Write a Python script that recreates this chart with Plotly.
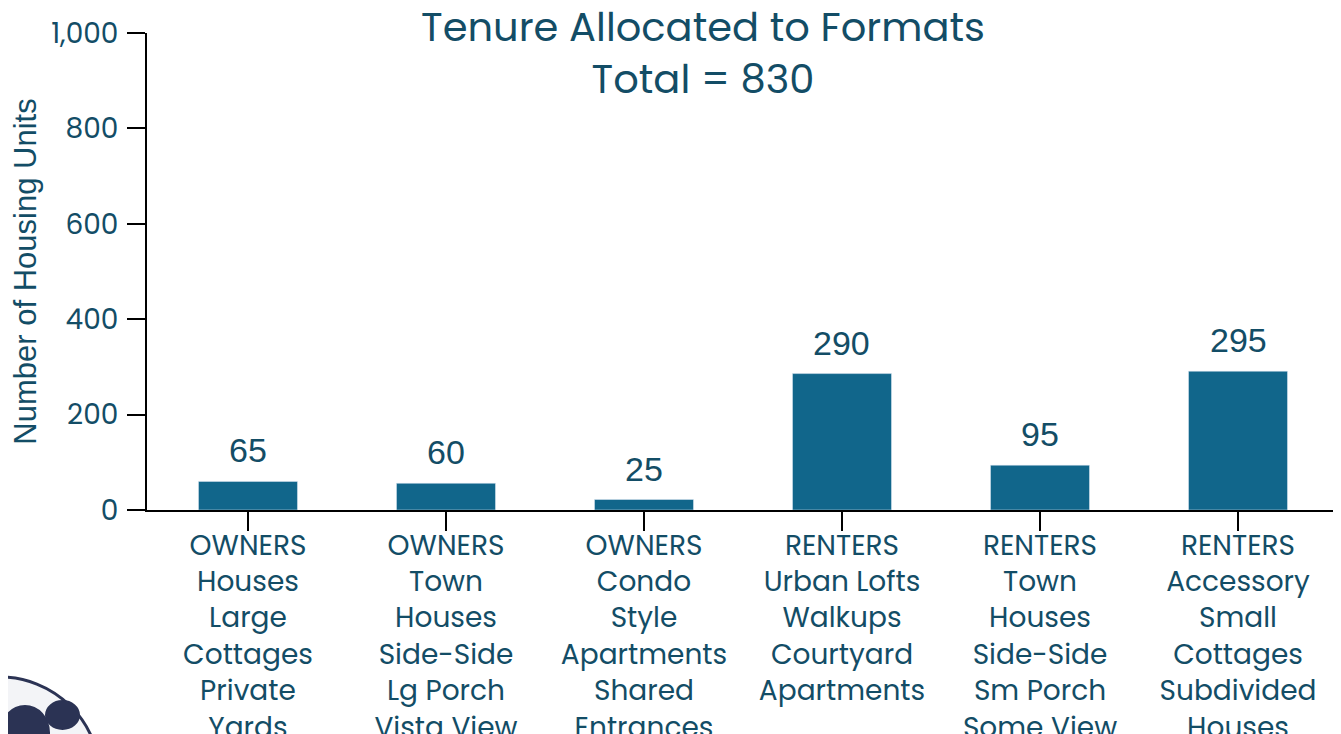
import plotly.graph_objects as go

# Data
categories = [
    "OWNERS<br>Houses<br>Large<br>Cottages<br>Private<br>Yards",
    "OWNERS<br>Town<br>Houses<br>Side-Side<br>Lg Porch<br>Vista View",
    "OWNERS<br>Condo<br>Style<br>Apartments<br>Shared<br>Entrances",
    "RENTERS<br>Urban Lofts<br>Walkups<br>Courtyard<br>Apartments",
    "RENTERS<br>Town<br>Houses<br>Side-Side<br>Sm Porch<br>Some View",
    "RENTERS<br>Accessory<br>Small<br>Cottages<br>Subdivided<br>Houses",
]
bar_values = [60, 56, 22, 286, 94, 291]
label_values = [65, 60, 25, 290, 95, 295]
y_ticks = [0, 200, 400, 600, 800, 1000]

TEXT = "#134d66"
BAR = "#11668b"
POP = "Poppins, 'Open Sans', sans-serif"
ARIAL = "Arial, 'Liberation Sans', sans-serif"

# page body has an 8px margin, so the figure is a bit smaller than the window
W, H = 1333, 726

fig = go.Figure()
fig.add_trace(go.Bar(x=categories, y=bar_values, marker_color=BAR, width=0.5,
                     hoverinfo="skip"))

# value labels above the bars
for c, v, lab in zip(categories, bar_values, label_values):
    fig.add_annotation(x=c, y=v, text=str(lab), showarrow=False,
                       yanchor="middle", yshift=31,
                       font=dict(family=ARIAL, size=34, color=TEXT))

fig.update_layout(
    width=W, height=H,
    margin=dict(l=139, r=4, t=25, b=224, autoexpand=False),
    paper_bgcolor="white", plot_bgcolor="white",
    showlegend=False,
    title=dict(text="Tenure Allocated to Formats<br>Total = 830",
               x=695 / W, xanchor="center", y=1 - 33 / H, yanchor="top",
               font=dict(family=POP, size=40, color=TEXT)),
)
fig.update_xaxes(showline=True, linecolor="black", linewidth=2,
                 ticks="outside", ticklen=19, tickwidth=2, tickcolor="black",
                 showgrid=False, automargin=False, range=[-0.51, 5.5],
                 ticklabelstandoff=-10,
                 tickfont=dict(family=POP, size=28, color=TEXT))
fig.update_yaxes(range=[0, 1000], tickvals=y_ticks, tickformat=",",
                 showline=True, linecolor="black", linewidth=2,
                 ticks="outside", ticklen=18, tickwidth=2, tickcolor="black",
                 showgrid=False, zeroline=False, automargin=False,
                 ticklabelstandoff=3,
                 tickfont=dict(family=POP, size=28, color=TEXT),
                 title=dict(text="Number of Housing Units", standoff=19,
                            font=dict(family=ARIAL, size=31, color=TEXT)))

# small globe logo in the lower left corner (screen px -> paper coords)
def px(x):
    return (x - 147) / 1190

def py(y):
    return (510 - y) / 477

fig.add_shape(type="circle", xref="paper", yref="paper",
              x0=px(-100), x1=px(100), y0=py(877), y1=py(677),
              fillcolor="#f3f4f7", line=dict(color="#2b3354", width=3))
fig.add_shape(type="circle", xref="paper", yref="paper",
              x0=px(0), x1=px(50), y0=py(760), y1=py(705),
              fillcolor="#2b3354", line=dict(width=0))
fig.add_shape(type="circle", xref="paper", yref="paper",
              x0=px(45), x1=px(80), y0=py(730), y1=py(700),
              fillcolor="#2b3354", line=dict(width=0))

fig.write_html("out.html")
